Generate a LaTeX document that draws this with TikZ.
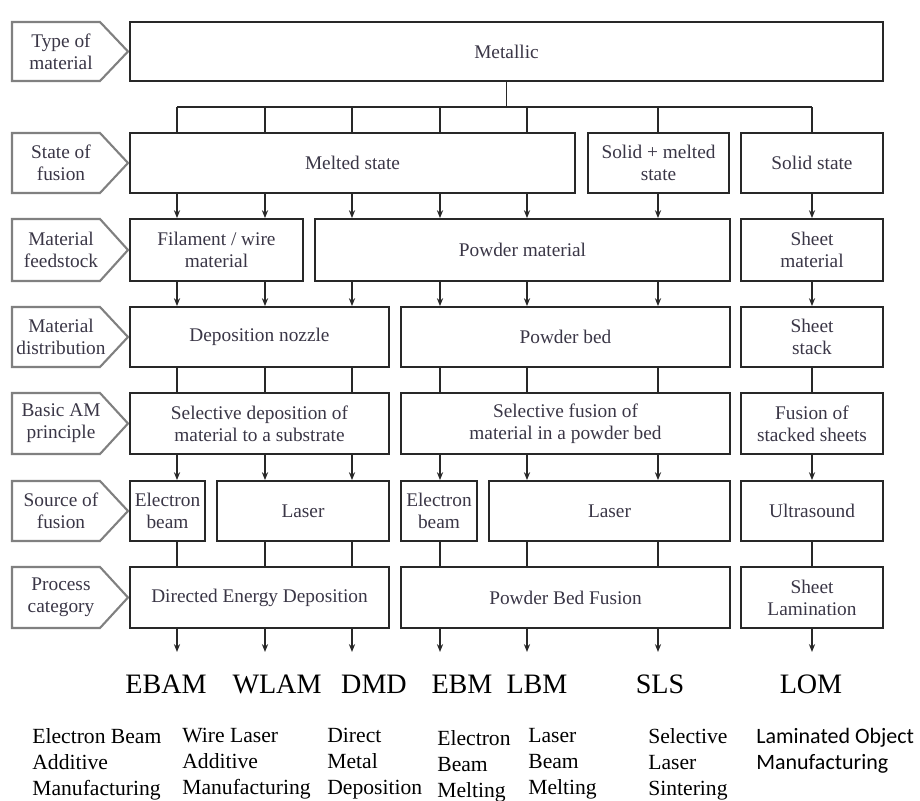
\documentclass[tikz,border=0pt]{standalone}
\usepackage{fontspec}
\usepackage{tikz}
\setmainfont{Liberation Serif}
\newfontfamily\sansdesc{Carlito}
\usetikzlibrary{arrows.meta}
\definecolor{boxtext}{RGB}{58,54,70}
\definecolor{stagegray}{RGB}{128,128,128}
\definecolor{lineblack}{RGB}{40,40,40}

\tikzset{
  procbox/.style={draw=lineblack, line width=1pt, align=center, text=boxtext,
    font=\fontsize{11}{12.5}\selectfont, inner sep=0pt},
  stagebox/.style={draw=stagegray, line width=1.2pt, line join=miter},
  stagetext/.style={align=center, text=boxtext, font=\fontsize{11}{12.5}\selectfont},
  link/.style={draw=lineblack, line width=1pt},
  flow/.style={link, -{Stealth[length=4.5pt,width=3.5pt]}},
  abbr/.style={anchor=base, font=\fontsize{16}{18}\selectfont},
  longname/.style={anchor=north west, align=left, inner sep=0pt,
    font=\fontsize{12.3}{14.7}\selectfont}
}

% stage label on the left: name, top, bottom, text
\newcommand{\stage}[4]{%
  \draw[stagebox] (12,#2) -- (100,#2) -- (128,{(#2+#3)/2}) -- (100,#3) -- (12,#3) -- cycle;
  \node[stagetext] (#1) at (61,{(#2+#3)/2}) {#4};}
% process box: name, x1, y1, x2, y2, text
\newcommand{\procnode}[6]{%
  \node[procbox, minimum width={(#4-#2)*0.02cm}, minimum height={(#5-#3)*0.02cm}]
    (#1) at ({(#2+#4)/2},{(#3+#5)/2}) {#6};}

\begin{document}
\begin{tikzpicture}[x=0.02cm, y=-0.02cm]
  \useasboundingbox (0,0) rectangle (920,801);

  % columns of the connectors
  \coordinate (k1) at (177,0);
  \coordinate (k2) at (265,0);
  \coordinate (k3) at (352,0);
  \coordinate (k4) at (440,0);
  \coordinate (k5) at (527,0);
  \coordinate (k6) at (658,0);
  \coordinate (k7) at (812,0);
  \coordinate (bus) at (0,107);
  \coordinate (out) at (0,652);

  % labels
  \stage{typ}{22}{81}{Type of\\material}
  \stage{fus}{133}{193}{State of\\fusion}
  \stage{feed}{219}{281}{Material\\feedstock}
  \stage{dist}{307}{367}{Material\\distribution}
  \stage{princ}{393}{454}{Basic AM\\principle}
  \stage{src}{481}{541}{Source of\\fusion}
  \stage{cat}{567}{628}{Process\\category}

  % boxes
  \procnode{metallic}{130}{22}{883}{81}{Metallic}
  \procnode{melted}{130}{133}{575}{193}{Melted state}
  \procnode{solidmelt}{588}{133}{729}{193}{Solid + melted\\state}
  \procnode{solid}{741}{133}{883}{193}{Solid state}
  \procnode{filament}{130}{219}{303}{281}{Filament / wire\\material}
  \procnode{powder}{315}{219}{730}{281}{Powder material}
  \procnode{sheet}{741}{219}{883}{281}{Sheet\\material}
  \procnode{nozzle}{130}{307}{389}{367}{Deposition nozzle}
  \procnode{bed}{401}{307}{730}{367}{Powder bed}
  \procnode{stack}{741}{307}{883}{367}{Sheet\\stack}
  \procnode{seldep}{130}{393}{389}{454}{Selective deposition of\\material to a substrate}
  \procnode{selfus}{401}{393}{730}{454}{Selective fusion of\\material in a powder bed}
  \procnode{fusion}{741}{393}{883}{454}{Fusion of\\stacked sheets}
  \procnode{ebeamA}{130}{481}{205}{541}{Electron\\beam}
  \procnode{laserA}{217}{481}{389}{541}{Laser}
  \procnode{ebeamB}{401}{481}{477}{541}{Electron\\beam}
  \procnode{laserB}{489}{481}{730}{541}{Laser}
  \procnode{ultra}{741}{481}{883}{541}{Ultrasound}
  \procnode{ded}{130}{567}{389}{628}{Directed Energy Deposition}
  \procnode{pbf}{401}{567}{730}{628}{Powder Bed Fusion}
  \procnode{lam}{741}{567}{883}{628}{Sheet\\Lamination}

  % connectors
  \draw[link] (metallic.south) -- (metallic.south |- bus);
  \draw[link] (k1 |- bus) -- (k7 |- bus);
  \foreach \k/\b in {k1/melted,k2/melted,k3/melted,k4/melted,k5/melted,k6/solidmelt,k7/solid}
    \draw[link] (\k |- bus) -- (\b.north -| \k);
  \foreach \k/\a/\b in {k1/melted/filament,k2/melted/filament,k3/melted/powder,k4/melted/powder,
      k5/melted/powder,k6/solidmelt/powder,k7/solid/sheet,
      k1/filament/nozzle,k2/filament/nozzle,k3/powder/nozzle,k4/powder/bed,
      k5/powder/bed,k6/powder/bed,k7/sheet/stack,
      k1/seldep/ebeamA,k2/seldep/laserA,k3/seldep/laserA,k4/selfus/ebeamB,
      k5/selfus/laserB,k6/selfus/laserB,k7/fusion/ultra}
    \draw[flow] (\a.south -| \k) -- (\b.north -| \k);
  \foreach \k/\a/\b in {k1/nozzle/seldep,k2/nozzle/seldep,k3/nozzle/seldep,k4/bed/selfus,
      k5/bed/selfus,k6/bed/selfus,k7/stack/fusion,
      k1/ebeamA/ded,k2/laserA/ded,k3/laserA/ded,k4/ebeamB/pbf,
      k5/laserB/pbf,k6/laserB/pbf,k7/ultra/lam}
    \draw[link] (\a.south -| \k) -- (\b.north -| \k);
  \foreach \k/\a in {k1/ded,k2/ded,k3/ded,k4/pbf,k5/pbf,k6/pbf,k7/lam}
    \draw[flow] (\a.south -| \k) -- (\k |- out);

  % abbreviations
  \node[abbr] (ebam) at (166,693) {EBAM};
  \node[abbr] (wlam) at (277,693) {WLAM};
  \node[abbr] (dmd) at (374,693) {DMD};
  \node[abbr] (ebm) at (462,693) {EBM};
  \node[abbr] (lbm) at (537,693) {LBM};
  \node[abbr] (sls) at (660,693) {SLS};
  \node[abbr] (lom) at (811,693) {LOM};

  % full names
  \node[longname] (ebamname) at (32,728) {Electron Beam\\Additive\\Manufacturing};
  \node[longname] (wlamname) at (182,728) {Wire Laser\\Additive\\Manufacturing};
  \node[longname] (dmdname) at (327,728) {Direct\\Metal\\Deposition};
  \node[longname] (ebmname) at (437,730) {Electron\\Beam\\Melting};
  \node[longname] (lbmname) at (528,728) {Laser\\Beam\\Melting};
  \node[longname] (slsname) at (648,728) {Selective\\Laser\\Sintering};
  \node[longname, font=\sansdesc\fontsize{12.5}{14.7}\selectfont] (lomname) at (756,728)
    {Laminated Object\\Manufacturing};
\end{tikzpicture}
\end{document}
